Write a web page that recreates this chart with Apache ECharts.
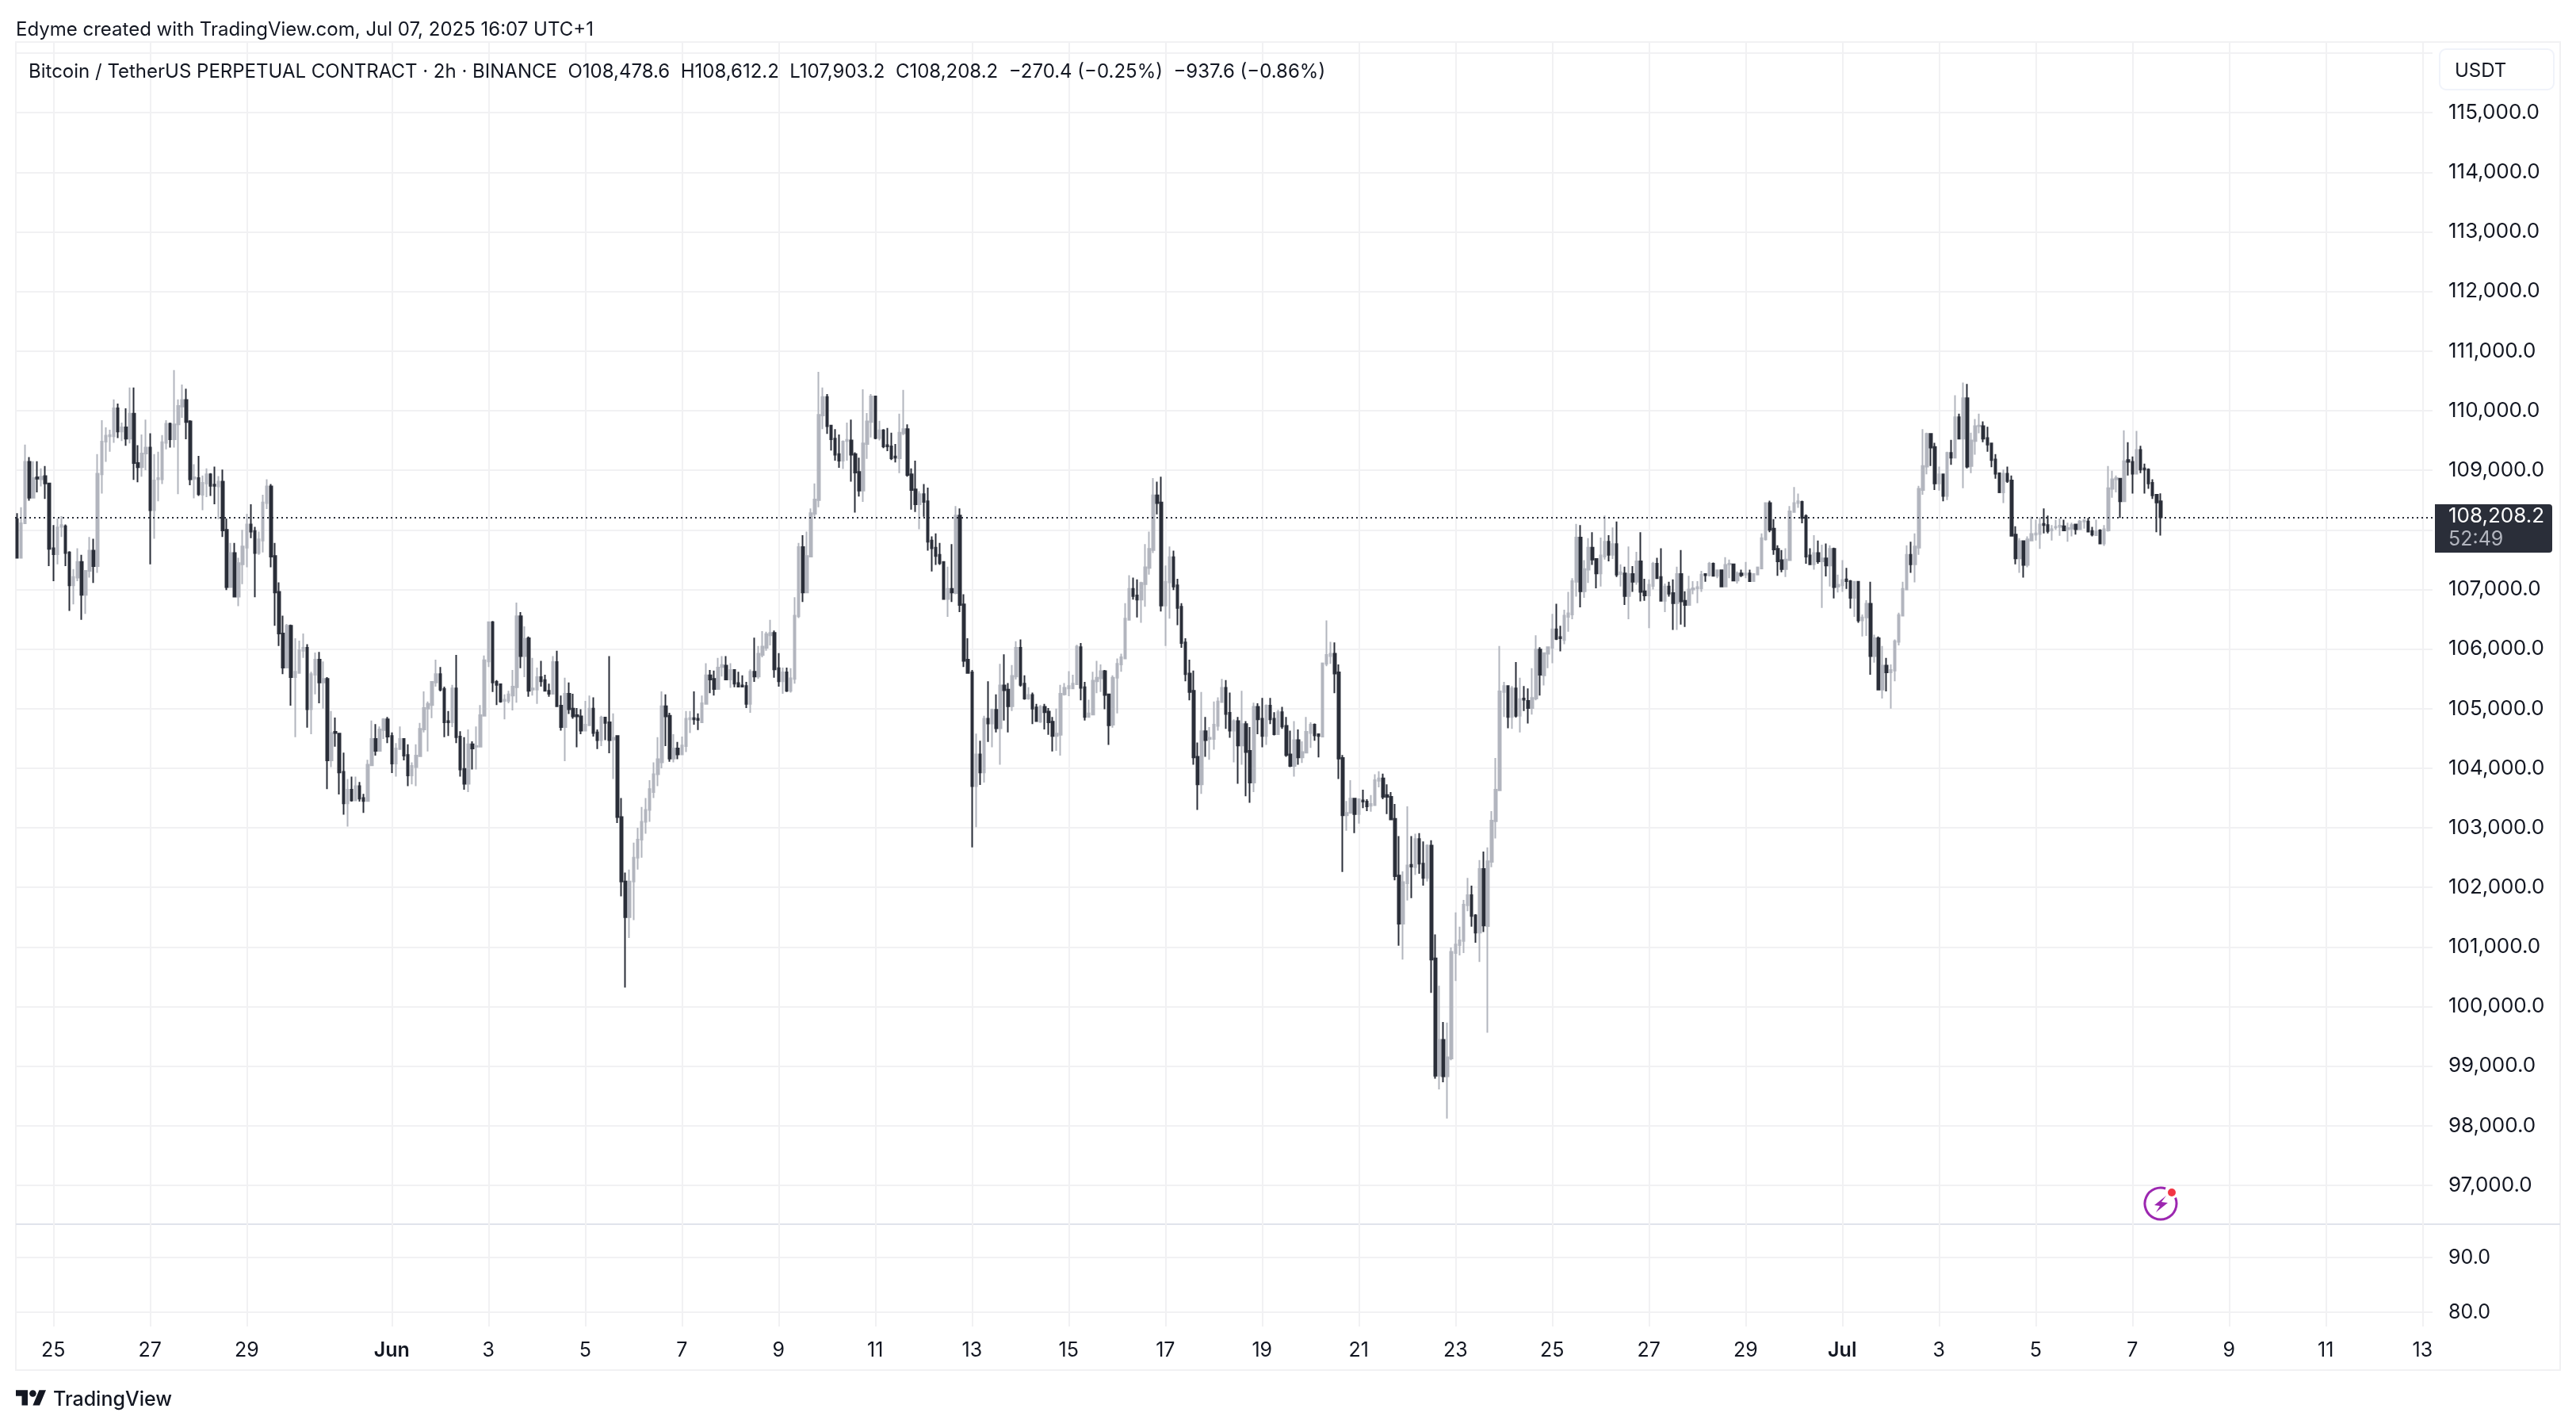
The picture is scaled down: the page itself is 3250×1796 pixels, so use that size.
<!DOCTYPE html>
<html>
<head>
<meta charset="utf-8">
<title>BTCUSDT.P 2h</title>
<script src="https://cdn.jsdelivr.net/npm/echarts@6/dist/echarts.min.js"></script>
<style>
html,body{margin:0;padding:0;background:#fff;}
#chart{width:3250px;height:1796px;}
</style>
</head>
<body>
<div id="chart"></div>
<script>
// 2h candles, from May 24 06:00 to Jul 7 (10 values per row)
var openPrices = [
108180,107530,108110,109140,108540,108880,108850,108900,108780,107690,
107590,108050,108060,107620,107070,107200,107460,106910,107310,107650,
107390,108930,109480,109570,109570,110040,109650,109720,109530,109950,
109120,109050,109280,109380,108330,108850,108850,109460,109780,109520,
109770,110070,110180,109820,108860,108870,108590,108780,108930,108760,
108730,108810,108000,107040,107610,106880,107420,107700,108090,107980,
107610,107820,108450,108730,107560,106960,106260,105690,106390,105530,
105600,105970,106020,104990,105570,105820,105440,105500,104130,104610,
104580,103940,103410,103640,103460,103700,103500,103450,104050,104490,
104290,104640,104820,104540,104080,104320,104490,104220,103880,104020,
104200,104650,105000,105060,105440,105580,105330,104790,104770,105340,
104530,103990,103740,104400,104360,104360,104880,105790,106450,105450,
105410,105130,105130,105220,105360,106550,105880,106180,105320,105320,
105530,105480,105300,105250,105780,105050,104690,105250,105000,104890,
104870,104630,104720,105000,104600,104470,104850,104770,104480,104540,
103180,102100,101500,102100,102500,102800,103100,103300,103600,103900,
104100,105040,104880,104160,104330,104230,104370,104820,104840,104830,
104770,105080,105560,105500,105330,105700,105720,105490,105650,105430,
105390,105380,105080,105620,105540,105900,106020,106230,106270,105680,
105460,105610,105300,105500,106550,107710,106950,107550,108270,108500,
109920,110230,109750,109530,109270,109160,109490,109500,109270,108970,
108660,109440,109810,110240,109540,109670,109420,109400,109230,109200,
109620,109690,108930,108680,108430,108600,108480,107820,107700,107580,
107460,106840,107010,106940,108240,106750,105820,105610,103700,104230,
103930,104830,104750,104980,104670,105390,105320,105040,105540,106020,
105420,105170,105230,105020,104780,105030,104950,104780,104540,104560,
105240,105340,105340,105410,106030,105360,104860,104900,105460,105510,
105630,105240,104730,105520,105740,105840,106490,107010,106900,106830,
107090,107360,107660,108580,108460,106730,107120,107540,107070,106710,
106110,105590,105300,104190,103730,104620,104490,104490,104710,105110,
105350,104930,104630,104790,104380,104740,104290,103760,105030,104830,
104540,105050,104830,104570,104940,104710,104230,104040,104470,104180,
104260,104590,104730,104570,104530,105750,105880,105920,105610,104170,
103210,103250,103490,103230,103460,103440,103370,103380,103790,103830,
103550,103520,103150,102200,101390,102070,102380,102340,102810,102400,
102160,102700,100810,98840,99440,98830,99130,100900,101030,101100,
101700,101870,101530,101240,102310,101350,102430,103110,103630,105280,
105380,104860,105340,104880,105170,105130,105010,105170,105990,105560,
105920,106020,106330,106200,106150,106540,106580,107130,107870,106970,
107330,107700,107510,107270,107550,107800,107580,107760,107260,107270,
106890,107260,107130,107470,106970,106900,107060,107430,107210,106810,
107050,106940,106770,107260,106810,106740,107000,107020,107020,107260,
107240,107430,107230,107320,107050,107420,107420,107150,107270,107250,
107270,107140,107250,107350,107840,108450,108020,107680,107490,107340,
107490,108300,108450,108470,108230,107570,107420,107610,107470,107520,
107400,107680,107050,107070,107170,107140,106860,107130,106480,106530,
106760,105880,106180,105320,105720,105610,105640,106120,106560,107000,
107580,107420,107700,108670,109060,109610,109390,108780,108930,108570,
109290,109210,109890,109530,110210,109070,109490,109740,109740,109540,
109450,109180,108950,108630,108940,108830,107920,107520,107810,107410,
107820,107920,107930,108100,108080,107990,108040,108050,108060,108010,
108020,108090,108010,108140,108140,107980,107910,107990,107770,107990,
108690,108850,108860,108480,109170,109140,108940,109340,109030,109010,
108790,108590,108478.6
];
var closePrices = [
107530,108110,109140,108540,108870,108860,108890,108780,107680,107590,
108040,108080,107610,107070,107210,107460,106910,107310,107650,107390,
108940,109480,109580,109590,110040,109650,109720,109530,109950,109120,
109050,109280,109380,108330,108830,108870,109470,109780,109520,109770,
110080,110180,109810,108850,108880,108600,108790,108930,108740,108740,
108810,107990,107040,107610,106880,107440,107720,108090,107970,107610,
107840,108460,108730,107550,106950,106260,105690,106390,105530,105620,
105980,106020,104990,105580,105820,105440,105500,104130,104590,104590,
103930,103410,103640,103460,103700,103490,103450,104060,104490,104290,
104650,104820,104530,104080,104330,104490,104210,103880,104040,104210,
104660,105010,105080,105450,105580,105320,104770,104770,105340,104520,
103980,103740,104400,104330,104370,104890,105810,106450,105440,105400,
105120,105150,105240,105370,106550,105880,106170,105300,105340,105530,
105460,105300,105250,105780,105040,104690,105250,104990,104870,104870,
104630,104730,105000,104590,104470,104850,104760,104470,104510,103180,
102100,101500,102100,102500,102800,103100,103300,103650,103900,104150,
105040,104870,104160,104330,104230,104380,104830,104840,104820,104810,
105090,105560,105490,105330,105690,105730,105490,105650,105420,105370,
105370,105080,105620,105540,105920,106040,106250,106270,105660,105460,
105610,105300,105510,106560,107710,106950,107560,108280,108510,109930,
110230,109740,109520,109260,109160,109480,109510,109260,108960,108660,
109450,109820,110240,109540,109670,109400,109400,109200,109210,109630,
109690,108920,108670,108430,108600,108470,107800,107690,107560,107440,
106840,107010,106950,108240,106740,105800,105600,103700,104230,103930,
104830,104750,104980,104670,105390,105310,105040,105550,106020,105400,
105170,105230,105000,104790,105030,104940,104770,104540,104580,105250,
105350,105380,105420,106040,105350,104860,104920,105470,105520,105630,
105230,104720,105520,105750,105860,106510,107010,106890,106830,107110,
107370,107680,108580,108450,106730,107130,107540,107050,106690,106100,
105580,105280,104180,103730,104620,104470,104510,104730,105120,105350,
104910,104630,104790,104380,104740,104270,103760,105030,104820,104540,
105050,104820,104570,104940,104700,104220,104040,104470,104180,104270,
104610,104730,104550,104540,105760,105900,105920,105590,104160,103210,
103250,103490,103230,103480,103440,103360,103400,103800,103830,103520,
103520,103140,102190,101390,102090,102370,102350,102810,102400,102160,
102700,100790,98840,99440,98830,99150,100920,101040,101110,101710,
101870,101520,101240,102310,101360,102440,103120,103640,105290,105380,
104860,105340,104880,105160,105150,105010,105180,105990,105570,105930,
106030,106330,106170,106180,106560,106600,107140,107870,106970,107340,
107700,107500,107270,107570,107800,107580,107760,107250,107290,106890,
107260,107130,107470,106960,106900,107080,107430,107190,106810,107050,
106930,106770,107260,106800,106740,107000,107020,107040,107250,107240,
107430,107230,107320,107050,107410,107430,107150,107270,107240,107270,
107140,107260,107370,107860,108450,108000,107670,107470,107340,107500,
108310,108450,108480,108200,107550,107420,107610,107470,107520,107400,
107680,107040,107080,107160,107140,106860,107130,106480,106530,106760,
105880,106180,105320,105720,105610,105650,106130,106570,107010,107580,
107420,107720,108690,109070,109610,109380,108780,108930,108570,109290,
109210,109890,109530,110210,109060,109500,109740,109750,109530,109430,
109170,108940,108630,108940,108820,107900,107520,107810,107410,107840,
107930,107940,108090,108080,107980,108010,108050,108070,107990,108030,
108080,108010,108140,108160,107970,107920,107970,107770,108010,108700,
108850,108870,108480,109150,109140,108940,109340,109010,109010,108780,
108580,108460,108208.2
];
var highPrices = [
108280,108380,109430,109220,109150,109150,109030,109070,108780,108080,
108190,108230,108090,107640,107340,107690,107580,107310,107880,107850,
109270,109840,109720,109680,110190,110120,109800,110040,110390,110390,
109420,109600,109850,109620,109270,109310,109590,109840,109800,110680,
110190,110440,110370,109840,109100,109240,108910,109030,108950,109060,
108900,109010,108190,107780,107780,107530,108000,108270,108430,108050,
107970,108590,108850,108770,107780,107120,106560,106420,106410,106180,
106140,106260,106080,105620,105940,105950,105790,105530,104960,104850,
104580,104260,103820,103860,103860,103770,103570,104140,104800,104740,
104700,104840,104860,104600,104420,104700,104490,104400,104100,104400,
104760,105290,105120,105460,105820,105700,105370,104960,105400,105900,
104620,104520,104650,104450,104700,105060,105890,106460,106470,105480,
105420,105240,105300,105650,106780,106620,106380,106210,105850,105690,
105800,105570,105420,105880,105970,105220,105520,105440,105250,105010,
104990,105130,105220,105190,104650,104880,104850,105880,104920,104550,
103500,102250,102300,102750,103000,103350,103500,103800,104100,104520,
105290,105240,104930,104570,104440,104530,104960,104960,105290,104920,
105220,105760,105650,105640,105850,105880,105880,105760,105650,105620,
105560,105450,105660,106190,106050,106300,106290,106490,106310,105930,
105690,105690,105680,106870,107780,107910,107970,108360,108780,110650,
110390,110280,109750,109690,109600,109500,109800,109850,109300,109210,
110360,109960,110280,110240,109830,109690,109710,109630,109440,109950,
110350,109770,109030,109160,108650,108770,108710,107890,107940,107780,
107470,107380,107760,108400,108360,106920,106180,105650,104580,104460,
104880,105460,105000,105240,105750,105910,105430,105730,106130,106160,
105560,105360,105270,105080,105060,105080,105010,104860,105000,105400,
105430,105630,105570,106070,106100,105450,105150,105620,105800,105740,
105650,105240,105560,105840,105920,106770,107240,107200,107170,107130,
107760,107970,108870,108810,108890,107400,107720,107650,107180,106770,
106180,105820,105640,104430,105280,104860,104690,105120,105190,105500,
105480,105270,104820,104860,105300,104790,104690,105100,105090,105180,
105070,105180,104940,104980,105030,104860,104630,104790,104650,104450,
104860,104770,104750,104570,105760,106480,106120,106110,105740,104220,
103450,103800,103490,103480,103640,103480,103550,103900,103950,103910,
103730,103600,103400,102860,102270,103360,102860,102900,102910,102770,
102720,102790,101210,100350,99740,99730,100990,101580,101340,101790,
102160,102030,101550,102460,102600,102670,103280,104170,106050,105450,
105380,105380,105780,105520,105380,105340,105680,106230,106030,105930,
106030,106590,106760,106390,106660,106960,107190,108100,108080,107490,
107860,107960,107510,107870,108240,107910,108040,108140,107420,107380,
107720,107390,107630,107960,107180,107170,107460,107530,107690,107100,
107130,107170,107380,107660,106970,107230,107140,107140,107310,107270,
107460,107450,107320,107320,107540,107500,107420,107300,107330,107460,
107330,107260,107370,107940,108460,108490,108180,107740,107660,107690,
108400,108720,108610,108490,108260,107690,107910,107820,107750,107770,
107740,107700,107250,107490,107360,107160,107130,107130,106580,106820,
107130,106240,106210,106050,105850,105740,106160,106610,107130,107740,
107800,107940,108740,109690,109630,109610,109460,109060,108930,109310,
109510,110260,109950,110470,110450,109630,109860,109950,109820,109730,
109450,109270,108950,109010,109060,108910,108060,107860,107820,107890,
108220,108170,108210,108360,108240,108080,108170,108190,108170,108120,
108120,108100,108170,108180,108200,108050,108170,108010,108080,109070,
108990,108910,108870,109670,109470,109230,109660,109410,109110,109030,
108850,108590,108612.2
];
var lowPrices = [
107520,107530,108110,108490,108540,108630,108730,108520,107390,107140,
107420,107880,107390,106640,106750,107140,106490,106590,107200,107110,
107280,108610,109140,109310,109460,109540,109490,109410,109450,108840,
108800,108890,109000,107420,107850,108480,108770,109350,109380,109380,
108600,109880,109520,108750,108530,108570,108330,108550,108570,108430,
108180,107880,106990,107040,106880,106720,107090,107370,107860,106870,
107580,107620,108350,107370,106390,106050,105580,105690,105050,104520,
105590,105850,104680,104570,105240,105090,105000,103650,104020,104360,
103560,103220,103020,103440,103460,103440,103250,103440,104050,104210,
104290,104490,104420,103920,103860,104320,104130,103700,103730,103700,
104200,104600,104280,104840,105370,105290,104520,104540,104690,104420,
103860,103640,103600,103980,103980,104360,104880,105700,105280,105060,
105100,104820,105090,104970,105100,105680,105530,105200,105220,105080,
105370,105300,105200,105250,105040,104630,104120,104910,104830,104350,
104570,104630,104720,104530,104320,104370,104470,104250,103820,103080,
101850,100320,101150,101450,102300,102500,102900,103100,103500,103700,
104000,104370,104110,104100,104150,104230,104270,104590,104730,104640,
104770,105080,105260,105220,105330,105540,105490,105350,105360,105360,
105360,105010,104930,105450,105500,105860,105970,106060,105520,105370,
105250,105280,105270,105420,106520,106790,106950,107550,108220,108380,
109690,109610,109330,109160,109040,109020,109160,108810,108290,108560,
108470,109190,109550,109520,109500,109370,109320,109170,109130,108950,
109590,108890,108340,108300,108010,108220,107650,107300,107410,107410,
106830,106540,106790,106920,106620,105700,105600,102670,103010,103720,
103760,104440,104350,104600,104060,104800,104600,104960,105490,105370,
105150,105150,104740,104790,104760,104650,104560,104280,104290,104210,
105220,105210,105340,105410,105140,104800,104860,104900,105260,105280,
104990,104390,104680,104920,105620,105840,106490,106830,106530,106440,
106710,107250,107610,108260,106630,106050,106510,106990,106400,106020,
105460,105140,104060,103300,103570,104190,104140,104310,104630,105110,
104660,104510,104100,103740,104060,103530,103420,103600,104570,104350,
104390,104740,104550,104570,104660,104190,104020,103860,104060,104090,
104260,104340,104460,104180,104530,105710,105750,105260,103820,102260,
102950,103240,102910,103070,103330,103280,103270,103380,103680,103480,
103230,103140,102120,101020,100790,101780,101820,102210,102230,102030,
102100,100230,98790,98610,98730,98120,99100,100430,100860,100900,
101600,101340,101070,100750,101250,99560,102340,102820,103630,104860,
104670,104660,104850,104600,104960,104750,104900,105140,105220,105390,
105680,105760,106150,105960,106080,106290,106500,106880,106700,106860,
107110,107410,107020,107050,107500,107470,107510,107210,107050,106740,
106500,106960,107080,106800,106810,106350,107000,107190,106810,106620,
106880,106320,106320,106410,106370,106740,106920,106770,106960,107130,
107220,107220,107190,107040,107050,107190,107150,107100,107210,107190,
107130,107140,107250,107350,107820,107960,107580,107230,107290,107210,
107490,108300,108370,108110,107430,107410,107330,107430,106690,107220,
107050,106850,106950,106960,107010,106680,106540,106440,106210,106220,
105570,105770,105320,105170,105290,105000,105460,106060,106560,107000,
107280,107120,107580,108590,108930,109070,108670,108660,108480,108500,
109090,109210,109530,108700,109030,108950,109260,109620,109470,109310,
109050,108860,108630,108450,108790,107900,107420,107280,107200,107370,
107820,107820,107680,107940,107940,107820,108000,107900,107980,107800,
107890,107920,108010,108020,107960,107890,107900,107760,107730,107970,
108540,108630,108200,108480,108910,108610,108940,108950,108610,108690,
108520,107960,107903.2
];
// x axis labels and where they fall, in days after May 25
var tickLabels = ['25','27','29','Jun','3','5','7','9','11','13','15','17','19','21','23','25','27','29','Jul','3','5','7','9','11','13'];
var tickDays = [0,2,4,7,9,11,13,15,17,19,21,23,25,27,29,31,33,35,37,39,41,43,45,47,49];
var firstBarsBeforeDay = 9;  // bars drawn before May 25 00:00
var slotCount = 600;         // 12 bars a day, incl. the empty right side
var lastPrice = 108208.2;
var countdown = '52:49';
var topLine = 'Edyme created with TradingView.com, Jul 07, 2025 16:07 UTC+1';
var legendLine = 'Bitcoin / TetherUS PERPETUAL CONTRACT · 2h · BINANCE  O108,478.6  H108,612.2  L107,903.2  C108,208.2  −270.4 (−0.25%)  −937.6 (−0.86%)';

var FONT = 'Inter';
var INK = '#131722';
var DOWN = '#2a2e39';
var UP = '#b2b5be';
var GRID_LINE = '#f1f1f3';

var categories = [];
for (var k = 0; k < slotCount; k++) categories.push('');
tickDays.forEach(function (d, n) { categories[firstBarsBeforeDay + d * 12] = tickLabels[n]; });

var candles = openPrices.map(function (o, n) {
	return [o, closePrices[n], lowPrices[n], highPrices[n]];
});

function isTick(index, value) { return value !== ''; }
function fmtPrice(v) {
	return v.toLocaleString('en-US', {minimumFractionDigits: 1, maximumFractionDigits: 1});
}
function plainText(x, y, text, size, color) {
	return {
		type: 'text', x: x, y: y, z: 10, silent: true,
		style: {text: text, font: size + 'px ' + FONT, fill: color, textVerticalAlign: 'middle'}
	};
}

var myChart = echarts.init(document.getElementById('chart'), null, {renderer: 'canvas'});
var option = {
	animation: false,
	backgroundColor: '#ffffff',
	textStyle: {fontFamily: FONT},
	grid: [
		{left: 19, width: 3050, top: 67, height: 1428},
		{left: 19, width: 3050, top: 1586, height: 69},
		{left: 19, width: 3050, top: 54, height: 1619}
	],
	xAxis: [
		{gridIndex: 0, type: 'category', data: categories, show: false},
		{gridIndex: 1, type: 'category', data: categories, show: false},
		{
			gridIndex: 2, type: 'category', data: categories,
			axisLine: {show: false},
			axisTick: {show: false},
			axisLabel: {
				interval: isTick, margin: 18, fontSize: 25, color: INK, fontFamily: FONT,
				formatter: function (v) { return isNaN(v) ? '{month|' + v + '}' : v; },
				rich: {month: {fontSize: 25, fontWeight: 600, color: INK, fontFamily: FONT}}
			},
			splitLine: {show: true, interval: isTick, alignWithLabel: true, lineStyle: {color: GRID_LINE, width: 2}}
		}
	],
	yAxis: [
		{
			gridIndex: 0, type: 'value', position: 'right', scale: true,
			min: 97000, max: 116000, interval: 1000,
			axisLine: {show: false},
			axisTick: {show: false},
			axisLabel: {
				margin: 20, fontSize: 26, color: INK, fontFamily: FONT, align: 'left',
				formatter: function (v) { return (v === 116000 || v === 108000) ? '' : fmtPrice(v); }
			},
			splitLine: {lineStyle: {color: GRID_LINE, width: 2}}
		},
		{
			gridIndex: 1, type: 'value', position: 'right',
			min: 80, max: 90, interval: 10,
			axisLine: {show: false},
			axisTick: {show: false},
			axisLabel: {margin: 20, fontSize: 25, color: INK, fontFamily: FONT, align: 'left', formatter: fmtPrice},
			splitLine: {lineStyle: {color: GRID_LINE, width: 2}}
		},
		{gridIndex: 2, type: 'value', show: false, min: 0, max: 1, splitLine: {show: false}}
	],
	series: [
		{
			type: 'candlestick',
			xAxisIndex: 0,
			yAxisIndex: 0,
			data: candles,
			barWidth: 3,
			clip: false,
			large: false,
			progressive: 0,
			itemStyle: {color: UP, color0: DOWN, borderColor: UP, borderColor0: DOWN, borderWidth: 2},
			markLine: {
				silent: true,
				symbol: 'none',
				label: {show: false},
				lineStyle: {color: DOWN, type: [2, 4], width: 2},
				data: [{yAxis: lastPrice}]
			}
		}
	],
	graphic: [
		plainText(20, 38, topLine, 24, INK),
		plainText(36, 91, legendLine, 24, INK),
		// frame and pane separator
		{type: 'rect', silent: true, z: -1, shape: {x: 20, y: 53, width: 3210, height: 1675}, style: {fill: null, stroke: '#f1f1f3', lineWidth: 2}},
		{type: 'line', silent: true, shape: {x1: 20, y1: 1544, x2: 3230, y2: 1544}, style: {stroke: '#e0e3eb', lineWidth: 2}},
		// currency box
		{type: 'rect', silent: true, z: 9, shape: {x: 3078, y: 62, width: 144, height: 51, r: 8}, style: {fill: '#fff', stroke: '#f0f3fa', lineWidth: 2}},
		plainText(3097, 90, 'USDT', 24, INK),
		// last price tag
		{type: 'rect', silent: true, z: 9, shape: {x: 3072, y: 636, width: 148, height: 61, r: [0, 4, 4, 0]}, style: {fill: DOWN}},
		plainText(3089, 651, fmtPrice(lastPrice), 26, '#ffffff'),
		plainText(3089, 680, countdown, 25, '#b2b5be'),
		// TradingView mark
		{
			type: 'group', x: 20, y: 1749, scaleX: 1.07, scaleY: 1.07, silent: true,
			children: [
				{type: 'polygon', shape: {points: [[14, 22], [7, 22], [7, 11], [0, 11], [0, 4], [14, 4]]}, style: {fill: INK}},
				{type: 'polygon', shape: {points: [[28, 22], [20, 22], [27.5, 4], [35.5, 4]]}, style: {fill: INK}},
				{type: 'circle', shape: {cx: 20, cy: 8, r: 4}, style: {fill: INK}}
			]
		},
		{type: 'text', silent: true, x: 67, y: 1765, style: {text: 'TradingView', font: '500 25px ' + FONT, fill: INK, textVerticalAlign: 'middle'}},
		// lightning badge
		{type: 'arc', silent: true, shape: {cx: 2726, cy: 1518, r: 20, startAngle: -Math.PI * 0.12, endAngle: -Math.PI * 0.4, clockwise: true}, style: {fill: null, stroke: '#9c27b0', lineWidth: 3}},
		{type: 'polygon', silent: true, shape: {points: [[2733, 1508], [2718, 1520], [2725, 1521], [2720, 1529], [2735, 1517], [2727, 1516]]}, style: {fill: '#9c27b0'}},
		{type: 'circle', silent: true, shape: {cx: 2740, cy: 1504, r: 5}, style: {fill: '#f23645'}}
	]
};
myChart.setOption(option);
</script>
</body>
</html>
